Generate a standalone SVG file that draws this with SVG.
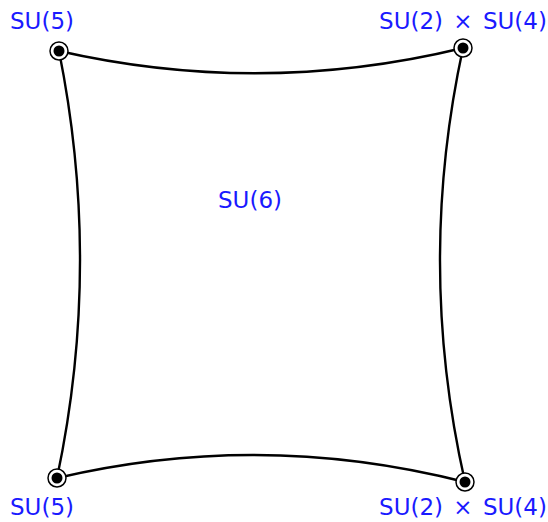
<svg xmlns="http://www.w3.org/2000/svg" width="548" height="522" viewBox="0 0 548 522">
<style>
.lbl{font-family:"DejaVu Sans",sans-serif;font-size:23px;fill:#1a1aff}
.wide{word-spacing:3px}
.edge{fill:none;stroke:#000;stroke-width:2.4}
.ring{fill:#fff;stroke:#000;stroke-width:1.5}
.dot{fill:#000}
</style>
<rect width="548" height="522" fill="#fff"/>
<g id="connectors">
<path class="edge" d="M59,51 Q261,97 463,48"/>
<path class="edge" d="M59,51 Q102,265 57,478"/>
<path class="edge" d="M463,48 Q416,265 465,482"/>
<path class="edge" d="M57,478 Q261,430 465,482"/>
</g>
<g id="n1"><circle class="ring" cx="59" cy="51" r="9"/><circle class="dot" cx="59" cy="51" r="5.5"/><text class="lbl" x="42" y="29" text-anchor="middle">SU(5)</text></g>
<g id="n2"><circle class="ring" cx="463" cy="48" r="9"/><circle class="dot" cx="463" cy="48" r="5.5"/><text class="lbl wide" x="463" y="29" text-anchor="middle">SU(2) × SU(4)</text></g>
<g id="n3"><circle class="ring" cx="57" cy="478" r="9"/><circle class="dot" cx="57" cy="478" r="5.5"/><text class="lbl" x="42" y="515" text-anchor="middle">SU(5)</text></g>
<g id="n4"><circle class="ring" cx="465" cy="482" r="9"/><circle class="dot" cx="465" cy="482" r="5.5"/><text class="lbl wide" x="463" y="515" text-anchor="middle">SU(2) × SU(4)</text></g>
<g id="n5"><text class="lbl" x="250" y="208" text-anchor="middle">SU(6)</text></g>
</svg>
